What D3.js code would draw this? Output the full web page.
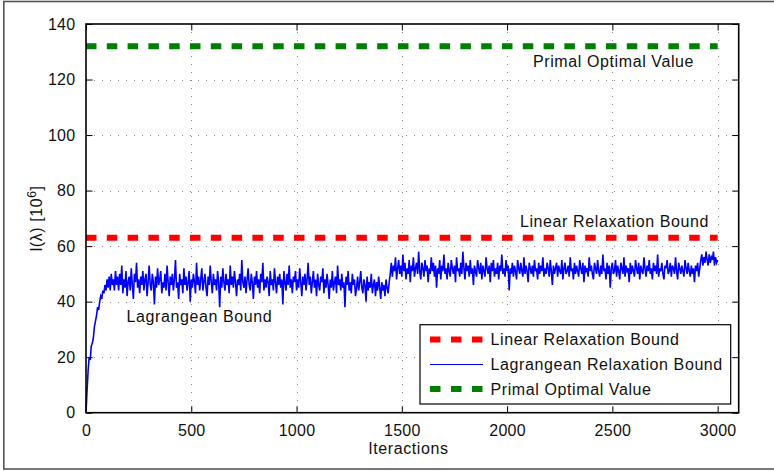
<!DOCTYPE html>
<html><head><meta charset="utf-8">
<script src="https://cdn.jsdelivr.net/npm/d3@7"></script>
<style>
html,body{margin:0;padding:0;background:#fff;}
svg{display:block;font-family:"Liberation Sans",Arial,Helvetica,sans-serif;}
</style></head>
<body>
<svg id="chart" width="774" height="471"></svg>
<script>
// ---- data ----
const xTicks = [0, 500, 1000, 1500, 2000, 2500, 3000];
const yTicks = [0, 20, 40, 60, 80, 100, 120, 140];
const iterationStep = 5;          // one reading every 5 iterations
const linearRelaxationBound = 63;
const primalOptimalValue = 132;
const boundRange = [0, 3000];
const seriesNames = ["Linear Relaxation Bound", "Lagrangean Relaxation Bound", "Primal Optimal Value"];
const seriesColors = ["#ff0000", "#0000ff", "#008000"];
// Lagrangean bound readings (iterations 0,5,10,...,3000)
const lagrangeanBound = [
 0,8,15,20,19,24,25,27,31,33,35,38,37,40,42,41,44,43,46,44,48,45,49,44,50,46,48,44,51,46,49,
 44,50,46,53,43,48,45,51,42,47,
 49,44,52,46,41,50,47,54,45,48,
 43,49,46,51,44,48,50,42,47,53,
 46,44,50,47,39,49,45,52,46,48,
 51,43,47,45,50,44,53,47,42,49,
 46,50,44,48,55,45,47,41,50,46,
 48,43,52,46,49,44,47,51,40,48,
 45,50,47,43,54,46,49,44,48,52,
 44,47,50,45,42,49,46,53,47,43,
 50,46,48,44,51,47,38,49,45,52,
 47,44,50,46,48,43,53,46,49,45,
 51,47,42,48,46,50,44,55,47,45,
 49,43,48,52,46,44,50,47,41,49,
 46,51,45,48,43,50,47,54,44,48,
 45,49,47,42,51,46,48,44,52,47,
 43,49,46,50,45,48,39,51,47,44,
 50,46,53,45,48,43,49,47,51,44,
 48,45,52,47,42,49,46,50,44,48,
 54,46,49,43,47,51,45,48,42,50,
 46,44,49,47,52,43,48,45,50,46,
 41,48,45,51,44,47,49,43,53,46,
 48,44,50,45,47,38,49,46,51,44,
 47,43,50,46,48,42,45,49,44,47,
 51,45,43,48,46,40,49,44,47,45,
 50,43,46,48,42,47,44,49,45,41,
 47,44,46,42,48,45,43,47,
 50,54,49,53,51,56,48,52,55,50,
 53,49,57,51,54,48,52,50,55,47,
 53,51,56,49,52,54,50,58,51,48,
 54,52,49,55,51,53,47,52,50,56,
 51,54,49,53,45,52,50,55,48,53,
 51,57,50,52,48,54,51,49,55,52,
 50,53,47,56,51,52,49,54,50,58,
 52,48,54,51,53,49,55,50,52,46,
 53,51,49,55,52,50,54,48,53,51,
 49,56,52,50,53,47,54,51,55,49,
 52,50,54,48,53,51,57,50,52,49,
 55,51,53,44,52,50,54,49,53,51,
 48,55,52,50,54,51,49,56,50,53,
 51,47,54,52,50,53,49,55,51,52,
 48,54,50,53,51,56,49,52,50,54,
 52,49,55,51,46,53,50,52,54,49,
 53,51,50,55,48,52,54,50,51,53,
 49,56,51,52,48,54,50,53,51,49,
 55,52,50,54,47,53,51,52,49,56,
 51,53,50,48,54,52,50,55,51,49,
 53,50,57,51,52,48,54,50,53,45,
 52,54,50,51,55,49,53,51,48,54,
 52,50,56,49,53,51,52,47,54,50,
 53,51,49,55,52,50,54,48,53,51,
 50,56,52,49,53,51,55,50,52,48,
 54,51,53,50,57,49,52,51,54,50,
 48,53,52,55,50,51,54,49,53,52,
 50,56,51,48,54,52,50,53,51,49,
 55,52,50,54,51,49,53,50,52,47,
 53,51,54,49,52,
 55,57,53,56,54,58,55,53,57,54,56,55,58,53,56,54,55
];

// ---- layout ----
const svg = d3.select("#chart");
const L = 86, R = 738.7, T = 24, B = 412.7;
const x = d3.scaleLinear().domain([0, 3100]).range([L, R]);
const y = d3.scaleLinear().domain([0, 140]).range([B, T]);
const FS = 16, LS = 0.6;

// figure border
svg.append("rect").attr("x", 3.8).attr("y", 1.5).attr("width", 790).attr("height", 467.5)
  .attr("fill", "#fff").attr("stroke", "#555").attr("stroke-width", 1.6);

// plot background
svg.append("rect").attr("x", L).attr("y", T).attr("width", R - L).attr("height", B - T).attr("fill", "#fff");

// grid
const grid = svg.append("g").attr("stroke", "#8a8a8a").attr("stroke-width", 1).attr("stroke-dasharray", "1,7");
xTicks.forEach(v => {
  if (v === 0) return;
  grid.append("line").attr("x1", Math.round(x(v)) + 0.5).attr("x2", Math.round(x(v)) + 0.5).attr("y1", T).attr("y2", B);
});
yTicks.forEach(v => {
  if (v === 0 || v === 140) return;
  grid.append("line").attr("y1", Math.round(y(v)) + 0.5).attr("y2", Math.round(y(v)) + 0.5).attr("x1", L).attr("x2", R);
});

// axes (MATLAB style ticks inside, box on)
const tl = 6.5;
const fmt = d3.format("d");
const axB = svg.append("g").attr("transform", `translate(0,${B})`)
  .call(d3.axisBottom(x).tickValues(xTicks).tickFormat(fmt).tickSizeInner(-tl).tickSizeOuter(0).tickPadding(tl + 5));
const axT = svg.append("g").attr("transform", `translate(0,${T})`)
  .call(d3.axisTop(x).tickValues(xTicks).tickSizeInner(-tl).tickSizeOuter(0).tickFormat(""));
const axL = svg.append("g").attr("transform", `translate(${L},0)`)
  .call(d3.axisLeft(y).tickValues(yTicks).tickFormat(fmt).tickSizeInner(-tl).tickSizeOuter(0).tickPadding(tl + 4));
const axR = svg.append("g").attr("transform", `translate(${R},0)`)
  .call(d3.axisRight(y).tickValues(yTicks).tickSizeInner(-tl).tickSizeOuter(0).tickFormat(""));
[axB, axT, axL, axR].forEach(g => {
  g.select(".domain").remove();
  g.selectAll(".tick line").attr("stroke", "#000").attr("stroke-width", 1);
  g.selectAll("text").attr("font-size", FS).attr("letter-spacing", 0.3).attr("fill", "#111")
    .attr("font-family", "Liberation Sans, Arial, sans-serif");
});

// data lines
const lineGen = d3.line().x(d => x(d[0])).y(d => y(d[1]));
const lagPts = lagrangeanBound.map((v, i) => [i * iterationStep, v]);

svg.append("path").datum(boundRange.map(v => [v, primalOptimalValue]))
  .attr("d", lineGen).attr("fill", "none").attr("stroke", seriesColors[2])
  .attr("stroke-width", 6).attr("stroke-dasharray", "10.5,10.3");
svg.append("path").datum(boundRange.map(v => [v, linearRelaxationBound]))
  .attr("d", lineGen).attr("fill", "none").attr("stroke", seriesColors[0])
  .attr("stroke-width", 6).attr("stroke-dasharray", "10.5,10.3");
svg.append("path").datum(lagPts)
  .attr("d", lineGen).attr("fill", "none").attr("stroke", seriesColors[1])
  .attr("stroke-width", 1.6).attr("stroke-linejoin", "miter");

// box
svg.append("rect").attr("x", L).attr("y", T).attr("width", R - L).attr("height", B - T)
  .attr("fill", "none").attr("stroke", "#000").attr("stroke-width", 1.6);

// annotations
const ann = svg.append("g").attr("font-size", FS).attr("letter-spacing", LS).attr("fill", "#111");
ann.append("text").attr("x", 533).attr("y", 67).text("Primal Optimal Value");
ann.append("text").attr("x", 709).attr("y", 226.5).attr("text-anchor", "end").text("Linear Relaxation Bound");
ann.append("text").attr("x", 126.5).attr("y", 321.5).text("Lagrangean Bound");

// axis labels
svg.append("text").attr("x", (L + R) / 2 - 4).attr("y", 454).attr("text-anchor", "middle")
  .attr("font-size", FS).attr("letter-spacing", LS).attr("fill", "#111").text("Iteractions");
const yl = svg.append("text").attr("transform", `translate(42,${(T + B) / 2}) rotate(-90)`)
  .attr("text-anchor", "middle").attr("font-size", FS).attr("letter-spacing", LS).attr("fill", "#111");
yl.append("tspan").text("l(λ) [10");
yl.append("tspan").attr("dy", -6).attr("font-size", 12).text("6");
yl.append("tspan").attr("dy", 6).text("]");

// legend
const lg = svg.append("g");
lg.append("rect").attr("x", 420).attr("y", 324.7).attr("width", 310.7).attr("height", 79.3)
  .attr("fill", "#fff").attr("stroke", "#000").attr("stroke-width", 1.2);
const rowsY = [339.5, 364.5, 389];
seriesNames.forEach((name, i) => {
  const ly = rowsY[i];
  const ln = lg.append("line").attr("x1", 430).attr("x2", 483).attr("y1", ly).attr("y2", ly)
    .attr("stroke", seriesColors[i]);
  if (i === 1) ln.attr("stroke-width", 1);
  else ln.attr("stroke-width", 6).attr("stroke-dasharray", "10.5,10.5");
  lg.append("text").attr("x", 490.5).attr("y", ly + 5.8).attr("font-size", FS).attr("letter-spacing", LS)
    .attr("fill", "#111").text(name);
});
</script>
</body></html>
